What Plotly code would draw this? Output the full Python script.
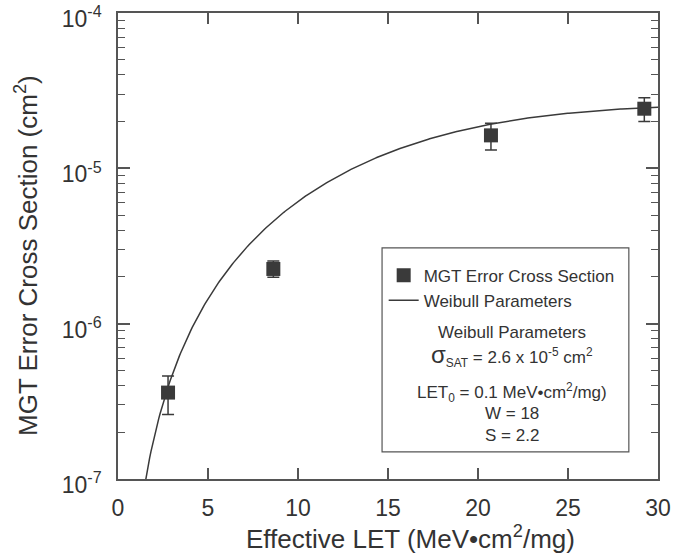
import numpy as np
import plotly.graph_objects as go

# Data
let_vals = [2.78, 8.63, 20.72, 29.24]
xs_vals = [3.6e-7, 2.25e-6, 1.63e-5, 2.42e-5]
xs_err_plus = [1.0e-7, 0.28e-6, 0.32e-5, 0.43e-5]
xs_err_minus = [1.0e-7, 0.26e-6, 0.32e-5, 0.42e-5]

# Weibull fit parameters (from the legend)
sigma_sat = 2.6e-5
let0 = 0.1
w_par = 18.0
s_par = 2.2

x_ticks = [0, 5, 10, 15, 20, 25, 30]
y_tickvals = [1e-7, 1e-6, 1e-5, 1e-4]
y_ticktext = ["10<sup>-7</sup>", "10<sup>-6</sup>", "10<sup>-5</sup>", "10<sup>-4</sup>"]

L = np.linspace(1.4, 30, 400)
sig = sigma_sat * (1 - np.exp(-(((L - let0) / w_par) ** s_par)))

INK = "#333333"
FONT = "Liberation Sans, Arial, sans-serif"

fig = go.Figure()
fig.add_trace(go.Scatter(
    x=L, y=sig, mode="lines", name="Weibull Parameters",
    line=dict(color="#3a3a3a", width=1.5),
))
fig.add_trace(go.Scatter(
    x=let_vals, y=xs_vals, mode="markers", name="MGT Error Cross Section",
    marker=dict(symbol="square", size=14, color="#3a3a3a"),
    error_y=dict(type="data", array=xs_err_plus, arrayminus=xs_err_minus,
                 color="#3a3a3a", thickness=1.5, width=6),
))

axis_common = dict(
    showline=True, linecolor="#555555", linewidth=1.5, mirror="ticks",
    ticks="inside", tickcolor="#555555", tickwidth=1.5, showgrid=False,
    zeroline=False, tickfont=dict(family=FONT, size=23, color=INK),
    ticklabeloverflow="allow", automargin=False,
)
fig.update_xaxes(range=[0, 30], tickvals=x_ticks, ticklen=11, ticklabelstandoff=8, **axis_common)
fig.update_yaxes(type="log", range=[-7, -4], tickvals=y_tickvals, ticktext=y_ticktext,
                 ticklen=12, ticklabelstandoff=10, ticklabelshift=6,
                 minor=dict(ticks="inside", ticklen=7, tickcolor="#555555", tickwidth=1.2,
                            tickvals=[m * 10.0 ** e for e in (-7, -6, -5) for m in range(2, 10)]),
                 **axis_common)

# legend box
fig.add_shape(type="rect", xref="paper", yref="paper", x0=0.489, x1=0.946, y0=0.058, y1=0.496,
              line=dict(color="#555555", width=1.2), fillcolor="white", layer="below")

ann = [
    ("Weibull Parameters", 332, 17),
    ("<span style='font-size:24px'>σ</span><sub>SAT</sub> = 2.6 x 10<sup>-5</sup> cm<sup>2</sup>", 355, 17),
    ("LET<sub>0</sub> = 0.1 MeV•cm<sup>2</sup>/mg)", 392, 17),
    ("W = 18", 413, 17),
    ("S = 2.2", 435, 17),
]
for txt, py, fs in ann:
    fig.add_annotation(text=txt, xref="paper", yref="paper", x=0.73, y=(479 - py) / 466,
                       showarrow=False, font=dict(family=FONT, size=fs, color=INK),
                       xanchor="center", yanchor="middle")

# axis titles
fig.add_annotation(text="Effective LET (MeV•cm<sup>2</sup>/mg)", xref="paper", yref="paper",
                   x=(410 - 118) / 540, y=(479 - 537) / 466, showarrow=False,
                   font=dict(family=FONT, size=26, color=INK), xanchor="center", yanchor="middle")
fig.add_annotation(text="MGT Error Cross Section (cm<sup>2</sup>)", xref="paper", yref="paper",
                   x=(26 - 118) / 540, y=(479 - 256) / 466, showarrow=False, textangle=-90,
                   font=dict(family=FONT, size=26, color=INK), xanchor="center", yanchor="middle")

fig.update_layout(
    width=690, height=556,
    margin=dict(l=118, r=32, t=13, b=77, autoexpand=False),
    paper_bgcolor="white", plot_bgcolor="white",
    showlegend=True,
    legend=dict(x=0.492, y=0.475, xanchor="left", yanchor="top", traceorder="reversed",
                bgcolor="rgba(0,0,0,0)", font=dict(family=FONT, size=17, color=INK),
                itemwidth=30, tracegroupgap=0),
)

fig.write_html("out.html")
